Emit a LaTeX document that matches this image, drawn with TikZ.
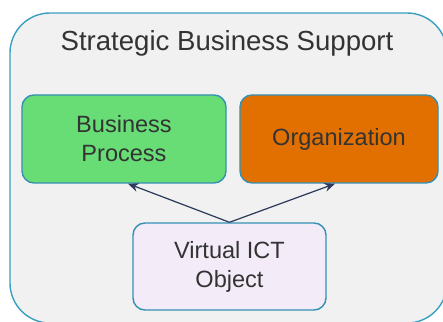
\documentclass[tikz,border=0pt]{standalone}
\usepackage{fontspec}
\setmainfont{Liberation Sans}
\definecolor{frameblue}{RGB}{58, 159, 192}
\definecolor{framefill}{RGB}{241, 241, 241}
\definecolor{boxedge}{RGB}{52, 145, 180}
\definecolor{procgreen}{RGB}{104, 221, 118}
\definecolor{orgorange}{RGB}{226, 112, 0}
\definecolor{objlilac}{RGB}{243, 236, 248}
\definecolor{arrownavy}{RGB}{46, 59, 92}
\definecolor{textgray}{RGB}{51, 51, 51}
\usetikzlibrary{arrows.meta, positioning}

\begin{document}
\begin{tikzpicture}[
    unitbox/.style={draw=boxedge, line width=0.8pt, rounded corners=0.24cm, align=center,
      font=\fontsize{13.4}{16.5}\selectfont, text=textgray, inner sep=0pt},
    link/.style={draw=arrownavy, line width=0.7pt, -{Stealth[length=6pt, width=5pt]}}
  ]
  \useasboundingbox (0, 0) rectangle (8.86, 6.44);
  \clip (0, 0) rectangle (8.86, 6.44);

  % Outer frame
  \draw[frameblue, fill=framefill, line width=0.8pt, rounded corners=0.8cm] (0.2, -0.02) rectangle (8.94, 6.18);
  \node[font=\fontsize{15.7}{18}\selectfont, text=textgray] (title) at (4.54, 5.58) {Strategic Business Support};

  % Boxes
  \node[unitbox, fill=procgreen, minimum width=4.08cm, minimum height=1.76cm] (proc) at (2.48, 3.66) {Business\\Process};
  \node[unitbox, fill=orgorange, minimum width=3.96cm, minimum height=1.76cm] (org) at (6.78, 3.66) {Organization};
  \node[unitbox, fill=objlilac, minimum width=3.86cm, minimum height=1.74cm] (vict) at (4.59, 1.11) {Virtual ICT\\Object};

  % Links
  \draw[link] (vict.north) -- ([xshift=0.08cm]proc.south);
  \draw[link] (vict.north) -- ([xshift=-0.08cm]org.south);
\end{tikzpicture}
\end{document}
